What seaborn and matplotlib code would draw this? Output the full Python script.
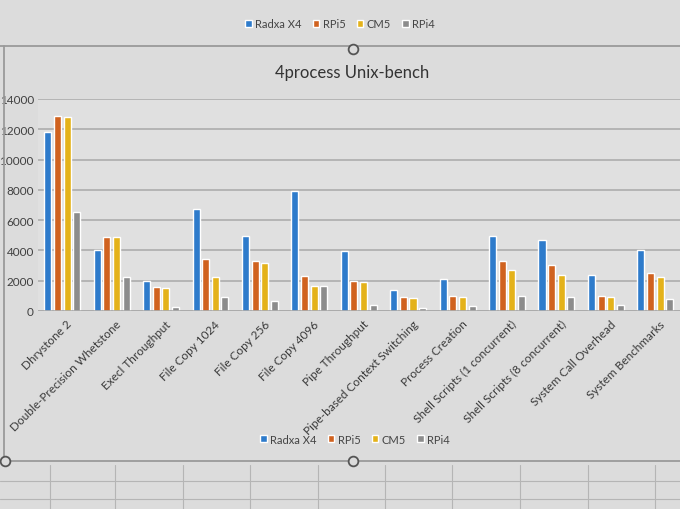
import pandas as pd
import seaborn as sns
import matplotlib.pyplot as plt
from matplotlib.lines import Line2D
from matplotlib.patches import Patch
from matplotlib.transforms import ScaledTranslation

tests = ['Dhrystone 2', 'Double-Precision Whetstone', 'Execl Throughput',
         'File Copy 1024', 'File Copy 256', 'File Copy 4096', 'Pipe Throughput',
         'Pipe-based Context Switching', 'Process Creation',
         'Shell Scripts (1 concurrent)', 'Shell Scripts (8 concurrent)',
         'System Call Overhead', 'System Benchmarks']
boards = ['Radxa X4', 'RPi5', 'CM5', 'RPi4']
radxa_x4 = [11800, 4000, 2000, 6750, 4970, 7950, 3950, 1380, 2100, 4950, 4670, 2400, 4020]
rpi5 = [12900, 4900, 1610, 3450, 3320, 2290, 1950, 920, 1020, 3270, 3060, 1020, 2530]
cm5 = [12830, 4900, 1530, 2270, 3170, 1620, 1900, 880, 910, 2680, 2400, 920, 2220]
rpi4 = [6550, 2240, 260, 950, 680, 1620, 400, 200, 320, 1020, 950, 400, 820]
colors = ['#2E7BCB', '#D0621F', '#E4B21A', '#8C8C8C']

rows = []
for board, vals in zip(boards, [radxa_x4, rpi5, cm5, rpi4]):
    for t, v in zip(tests, vals):
        rows.append({'test': t, 'board': board, 'score': v})
df = pd.DataFrame(rows)

bg = '#dcdcdc'
sns.set_style('white')
plt.rcParams['font.family'] = ['Lato', 'DejaVu Sans']

fig = plt.figure(figsize=(6.8, 5.1), dpi=100, facecolor=bg)
ax = fig.add_axes([38 / 680, 1 - 312 / 510, 1 - 38 / 680, 212 / 510])
ax.set_facecolor('#e0e0e0')

sns.barplot(data=df, x='test', y='score', hue='board', hue_order=boards,
            palette=colors, width=0.78, gap=0.27, ax=ax, legend=False,
            saturation=1)

ax.set_ylim(0, 14000)
ax.set_xlim(-0.49, 12.5)
ax.set_yticks(range(0, 14001, 2000))
ax.yaxis.grid(True, color='#a9a9a9', linewidth=1.1)
ax.set_axisbelow(True)
for s in ax.spines.values():
    s.set_visible(False)
ax.axhline(0, color='#a9a9a9', linewidth=1.2)
ax.set_xlabel('')
ax.set_ylabel('')
ax.tick_params(axis='y', labelsize=8.5, colors='#404040', length=0, pad=3)
ax.tick_params(axis='x', length=0, pad=5)
shift = ScaledTranslation(4 / 100, 0, fig.dpi_scale_trans)
for lab in ax.get_xticklabels():
    lab.set_rotation(45)
    lab.set_ha('right')
    lab.set_rotation_mode('anchor')
    lab.set_fontsize(8.5)
    lab.set_color('#3a3a3a')
    lab.set_transform(lab.get_transform() + shift)

fig.text(0.518, 1 - 73 / 510, '4process Unix-bench', ha='center', va='center',
         fontsize=12, color='#333333')

handles = [Patch(facecolor=c, label=b) for c, b in zip(colors, boards)]
for xpos, ypos in [(0.522, 1 - 440 / 510), (0.5, 1 - 25 / 510)]:
    fig.legend(handles=handles, loc='center', bbox_to_anchor=(xpos, ypos), ncol=4,
               frameon=False, fontsize=8, handlelength=0.6, handleheight=0.6,
               columnspacing=1.0, handletextpad=0.3, labelcolor='#444444')

# marco de selección de Excel y celdas debajo
line_kw = dict(color='#9a9a9a', linewidth=1.3, transform=fig.transFigure)
fig.add_artist(Line2D([0, 1], [1 - 47 / 510] * 2, **line_kw))
fig.add_artist(Line2D([0, 1], [1 - 462 / 510] * 2, **line_kw))
fig.add_artist(Line2D([4 / 680] * 2, [1 - 462 / 510, 1 - 47 / 510], **line_kw))
for cx, cy in [(353, 50), (5, 462), (353, 462)]:
    fig.add_artist(Line2D([cx / 680], [1 - cy / 510], marker='o', markersize=7,
                          markerfacecolor=bg, markeredgecolor='#555555',
                          markeredgewidth=1.3, transform=fig.transFigure))
thin = dict(color='#b5b5b5', linewidth=0.8, transform=fig.transFigure)
for gy in [482, 500]:
    fig.add_artist(Line2D([0, 1], [1 - gy / 510] * 2, **thin))
for gx in [50, 115, 183, 250, 318, 385, 452, 520, 588, 655]:
    fig.add_artist(Line2D([gx / 680] * 2, [0, 1 - 466 / 510], **thin))

plt.savefig('out.png', dpi=100, facecolor=bg)
